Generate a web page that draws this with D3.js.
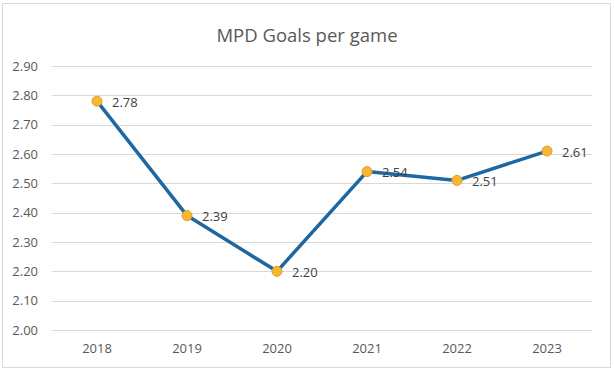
<!DOCTYPE html>
<html>
<head>
<meta charset="utf-8">
<script src="https://cdn.jsdelivr.net/npm/d3@7"></script>
<style>
	body { margin: 0; background: #fff; }
	text { font-family: "Open Sans", "Noto Sans", sans-serif; }
</style>
</head>
<body>
<script>
// chart data
var years = ["2018", "2019", "2020", "2021", "2022", "2023"];
var goals = [2.78, 2.39, 2.20, 2.54, 2.51, 2.61];
var yTicks = [2.00, 2.10, 2.20, 2.30, 2.40, 2.50, 2.60, 2.70, 2.80, 2.90];

var fullWidth = 614, fullHeight = 374;
var margin = {top: 66, right: 22, bottom: 44, left: 52},
	width = 592 - margin.left,
	height = 330 - margin.top;

var svg = d3.select("body").append("svg")
	.attr("width", fullWidth)
	.attr("height", fullHeight);

// outer frame
svg.append("rect")
	.attr("x", 2.5).attr("y", 3.5)
	.attr("width", 608).attr("height", 364)
	.attr("fill", "#fff")
	.attr("stroke", "#d9d9d9");

svg.append("text")
	.attr("x", 307)
	.attr("y", 42)
	.attr("text-anchor", "middle")
	.attr("font-size", 18.5)
	.attr("fill", "#595959")
	.text("MPD Goals per game");

var g = svg.append("g")
	.attr("transform", "translate(" + margin.left + "," + margin.top + ")");

var xScale = d3.scaleBand().domain(years).range([0, width]);
var yScale = d3.scaleLinear().domain([2.0, 2.9]).range([height, 0]);

// gridlines
g.selectAll(".grid")
	.data(yTicks)
	.enter().append("line")
		.attr("class", "grid")
		.attr("x1", 0).attr("x2", width)
		.attr("y1", function(d) { return Math.round(yScale(d)) + 0.5; })
		.attr("y2", function(d) { return Math.round(yScale(d)) + 0.5; })
		.attr("stroke", "#d9d9d9")
		.attr("stroke-width", 1);

var yAxis = d3.axisLeft(yScale)
	.tickValues(yTicks)
	.tickFormat(d3.format(".2f"))
	.tickSize(0)
	.tickPadding(14);
var yg = g.append("g").call(yAxis);
yg.select(".domain").remove();
yg.selectAll("text")
	.attr("font-size", 13)
	.attr("fill", "#595959")
	.style("font-family", "'Open Sans', 'Noto Sans', sans-serif");

var xAxis = d3.axisBottom(xScale).tickSize(0).tickPadding(14);
var xg = g.append("g")
	.attr("transform", "translate(0," + height + ")")
	.call(xAxis);
xg.select(".domain").remove();
xg.selectAll("text")
	.attr("font-size", 13)
	.attr("fill", "#595959")
	.style("font-family", "'Open Sans', 'Noto Sans', sans-serif");

var xc = function(d, i) { return xScale(years[i]) + xScale.bandwidth() / 2; };

var line = d3.line()
	.x(function(d, i) { return xc(d, i); })
	.y(function(d) { return yScale(d); });

g.append("path")
	.datum(goals)
	.attr("fill", "none")
	.attr("stroke", "#1f67a0")
	.attr("stroke-width", 3.5)
	.attr("stroke-linejoin", "round")
	.attr("d", line);

g.selectAll(".dot")
	.data(goals)
	.enter().append("circle")
		.attr("class", "dot")
		.attr("cx", xc)
		.attr("cy", function(d) { return yScale(d); })
		.attr("r", 5)
		.attr("fill", "#f7b733")
		.attr("stroke", "#e0a024")
		.attr("stroke-width", 1);

g.selectAll(".lbl")
	.data(goals)
	.enter().append("text")
		.attr("class", "lbl")
		.attr("x", function(d, i) { return xc(d, i) + 15; })
		.attr("y", function(d) { return yScale(d) + 1; })
		.attr("dy", "0.35em")
		.attr("font-size", 13)
		.attr("fill", "#404040")
		.text(function(d) { return d.toFixed(2); });
</script>
</body>
</html>
